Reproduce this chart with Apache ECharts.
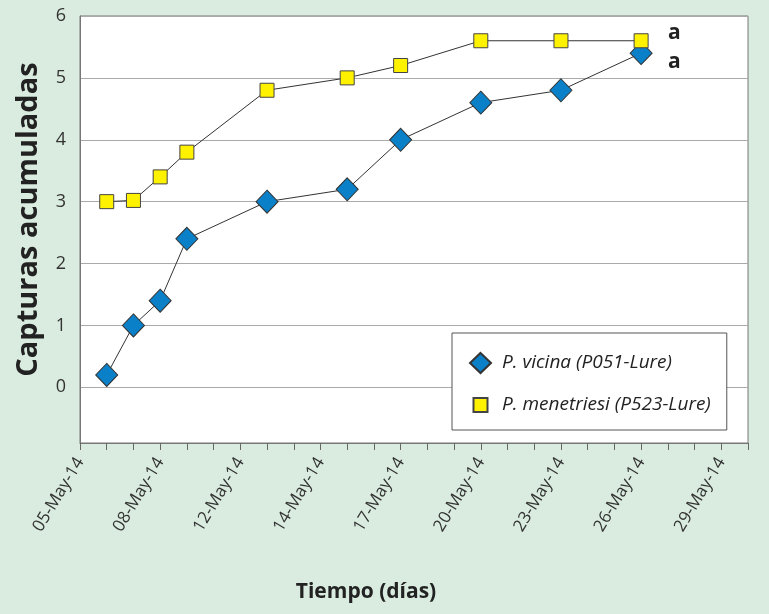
<!DOCTYPE html>
<html>
<head>
<meta charset="utf-8">
<script src="https://cdn.jsdelivr.net/npm/echarts@6/dist/echarts.min.js"></script>
<style>
  html, body { margin: 0; padding: 0; background: #d9ecdf; }
  #chart { width: 769px; height: 614px; }
</style>
</head>
<body>
<div id="chart"></div>
<script>
  // eje X: días desde 05-May-14, etiquetas cada 3 marcas
  var tickLabels = ['05-May-14', '08-May-14', '12-May-14', '14-May-14', '17-May-14',
                    '20-May-14', '23-May-14', '26-May-14', '29-May-14'];
  var sampleDays = [1, 2, 3, 4, 7, 10, 12, 15, 18, 21];

  // capturas acumuladas
  var vicina = [0.2, 1.0, 1.4, 2.4, 3.0, 3.2, 4.0, 4.6, 4.8, 5.4];
  var menetriesi = [3.0, 3.02, 3.4, 3.8, 4.8, 5.0, 5.2, 5.6, 5.6, 5.6];

  var seriesNames = ['P. vicina (P051-Lure)', 'P. menetriesi (P523-Lure)'];
  var groupLetters = ['a', 'a'];

  function pairs(ys) {
    var out = [];
    for (var i = 0; i < ys.length; i++) {
      out.push([sampleDays[i], ys[i]]);
    }
    return out;
  }

  var font = '"Open Sans", Lato, sans-serif';
  var myChart = echarts.init(document.getElementById('chart'));

  myChart.setOption({
    backgroundColor: '#d9ecdf',
    textStyle: { fontFamily: font },
    grid: {
      left: 80,
      top: 16,
      right: 21,
      bottom: 171,
      show: true,
      backgroundColor: '#fff',
      borderColor: '#777',
      borderWidth: 1
    },
    legend: {
      orient: 'vertical',
      left: 452,
      top: 333,
      backgroundColor: '#fff',
      borderColor: '#555',
      borderWidth: 1,
      padding: [19, 16, 14, 17],
      itemGap: 20,
      itemWidth: 21,
      itemHeight: 20,
      textStyle: {
        fontSize: 19, fontStyle: 'italic', color: '#222', fontFamily: font,
        padding: [0, 0, 0, 6]
      },
      data: [
        { name: seriesNames[0], icon: 'diamond' },
        // cuadrado algo más pequeño que el rombo, como en el original
        { name: seriesNames[1], icon: 'path://M0,0M21,20M3.5,3L17.5,3L17.5,17L3.5,17Z' }
      ]
    },
    xAxis: {
      type: 'value',
      min: 0,
      max: 25,
      interval: 1,
      name: 'Tiempo (días)',
      nameLocation: 'middle',
      nameGap: 139,
      nameTextStyle: {
        fontSize: 21, fontWeight: 'bold', color: '#222', fontFamily: font,
        padding: [0, 96, 0, 0]
      },
      axisLine: { onZero: false, lineStyle: { color: '#777', width: 1 } },
      axisTick: { show: true, length: 7, lineStyle: { color: '#666' } },
      splitLine: { show: false },
      axisLabel: {
        rotate: 59,
        margin: 16,
        fontSize: 17,
        color: '#333',
        showMaxLabel: true,
        formatter: function (v) {
          if (v % 3 === 0 && v / 3 < tickLabels.length) {
            return tickLabels[v / 3];
          }
          return '';
        }
      }
    },
    yAxis: {
      type: 'value',
      min: -0.9,
      max: 6,
      splitNumber: 7,
      name: 'Capturas acumuladas',
      nameLocation: 'middle',
      nameGap: 37,
      nameTextStyle: {
        fontSize: 29, fontWeight: 'bold', color: '#222', fontFamily: font,
        padding: [0, 0, 0, 20]
      },
      axisLine: { show: true, lineStyle: { color: '#777', width: 1 } },
      axisTick: { show: false },
      splitLine: { lineStyle: { color: '#aaa', width: 1 } },
      axisLabel: {
        fontSize: 18,
        color: '#333',
        margin: 14,
        formatter: function (v) {
          return v < 0 ? '' : String(Math.round(v));
        }
      }
    },
    series: [
      {
        name: seriesNames[0],
        type: 'line',
        data: pairs(vicina),
        symbol: 'diamond',
        symbolSize: [22, 23],
        lineStyle: { color: '#333', width: 1 },
        itemStyle: { color: '#0a80c8', borderColor: '#333', borderWidth: 1 },
        endLabel: {
          show: true,
          formatter: groupLetters[0],
          fontSize: 21,
          fontWeight: 'bold',
          color: '#222',
          offset: [19, 9]
        },
        z: 2
      },
      {
        name: seriesNames[1],
        type: 'line',
        data: pairs(menetriesi),
        symbol: 'rect',
        symbolSize: 14,
        lineStyle: { color: '#333', width: 1 },
        itemStyle: { color: '#fff200', borderColor: '#444', borderWidth: 1 },
        endLabel: {
          show: true,
          formatter: groupLetters[1],
          fontSize: 21,
          fontWeight: 'bold',
          color: '#222',
          offset: [19, -8]
        },
        z: 3
      }
    ]
  });
</script>
</body>
</html>
